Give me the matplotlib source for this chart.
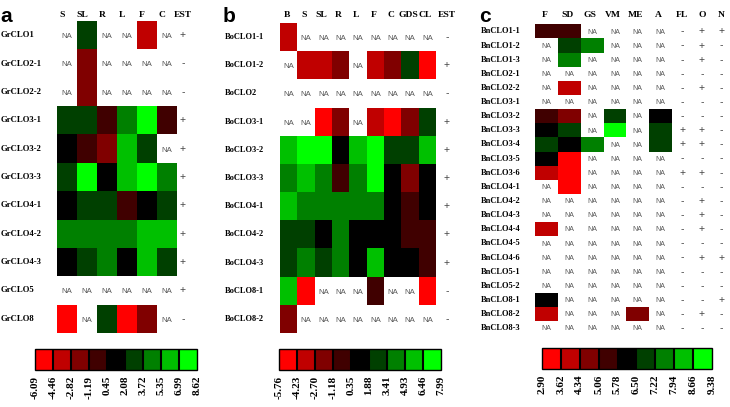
import numpy as np
import matplotlib.pyplot as plt
from matplotlib.colors import ListedColormap, BoundaryNorm
from matplotlib.cm import ScalarMappable

palette = ['#ff0000', '#c00000', '#800000', '#400000', '#000000',
           '#004000', '#008000', '#00c000', '#00ff00']
cmap = ListedColormap(palette)
N = None

# ---- panel a ----
a_rows = ['GrCLO1', 'GrCLO2-1', 'GrCLO2-2', 'GrCLO3-1', 'GrCLO3-2', 'GrCLO3-3',
          'GrCLO4-1', 'GrCLO4-2', 'GrCLO4-3', 'GrCLO5', 'GrCLO8']
a_cols = ['S', 'SL', 'R', 'L', 'F', 'C']
a_levels = [[N, 5, N, N, 1, N],
            [N, 2, N, N, N, N],
            [N, 2, N, N, N, N],
            [5, 5, 3, 6, 8, 3],
            [4, 3, 2, 7, 5, N],
            [5, 8, 4, 7, 8, 6],
            [4, 5, 5, 3, 4, 5],
            [6, 6, 6, 6, 7, 7],
            [4, 5, 6, 4, 7, 5],
            [N, N, N, N, N, N],
            [0, N, 5, 0, 2, N]]
a_est = ['+', '-', '-', '+', '+', '+', '+', '+', '+', '+', '-']
a_ticks = [-6.09, -4.46, -2.82, -1.19, 0.45, 2.08, 3.72, 5.35, 6.99, 8.62]

# ---- panel b ----
b_rows = ['BoCLO1-1', 'BoCLO1-2', 'BoCLO2', 'BoCLO3-1', 'BoCLO3-2', 'BoCLO3-3',
          'BoCLO4-1', 'BoCLO4-2', 'BoCLO4-3', 'BoCLO8-1', 'BoCLO8-2']
b_cols = ['B', 'S', 'SL', 'R', 'L', 'F', 'C', 'GDS', 'CL']
b_levels = [[1, N, N, N, N, N, N, N, N],
            [N, 1, 1, 2, N, 1, 2, 5, 0],
            [N, N, N, N, N, N, N, N, N],
            [N, N, 0, 2, N, 1, 0, 2, 5],
            [7, 8, 8, 4, 7, 8, 5, 5, 7],
            [6, 7, 6, 3, 6, 8, 4, 2, 4],
            [7, 6, 6, 6, 6, 6, 4, 3, 4],
            [5, 5, 4, 6, 4, 4, 4, 3, 3],
            [5, 6, 5, 6, 4, 7, 4, 4, 3],
            [7, 0, N, N, N, 3, N, N, 0],
            [2, N, N, N, N, N, N, N, N]]
b_est = ['-', '+', '-', '+', '+', '+', '+', '+', '+', '-', '-']
b_ticks = [-5.76, -4.23, -2.70, -1.18, 0.35, 1.88, 3.41, 4.93, 6.46, 7.99]

# ---- panel c ----
c_rows = ['BnCLO1-1', 'BnCLO1-2', 'BnCLO1-3', 'BnCLO2-1', 'BnCLO2-2', 'BnCLO3-1',
          'BnCLO3-2', 'BnCLO3-3', 'BnCLO3-4', 'BnCLO3-5', 'BnCLO3-6', 'BnCLO4-1',
          'BnCLO4-2', 'BnCLO4-3', 'BnCLO4-4', 'BnCLO4-5', 'BnCLO4-6', 'BnCLO5-1',
          'BnCLO5-2', 'BnCLO8-1', 'BnCLO8-2', 'BnCLO8-3']
c_cols = ['F', 'SD', 'GS', 'VM', 'ME', 'A']
c_levels = [[3, 3, N, N, N, N],
            [N, 5, 6, N, N, N],
            [N, 6, N, N, N, N],
            [N, N, N, N, N, N],
            [N, 1, N, N, N, N],
            [N, N, N, N, N, N],
            [3, 2, N, 5, N, 4],
            [4, 5, N, 8, N, 5],
            [5, 4, 6, N, N, 5],
            [4, 0, N, N, N, N],
            [1, 0, N, N, N, N],
            [N, 0, N, N, N, N],
            [N, N, N, N, N, N],
            [N, N, N, N, N, N],
            [1, N, N, N, N, N],
            [N, N, N, N, N, N],
            [N, N, N, N, N, N],
            [N, N, N, N, N, N],
            [N, N, N, N, N, N],
            [4, N, N, N, N, N],
            [1, N, N, N, 2, N],
            [N, N, N, N, N, N]]
c_fl = ['-', '-', '-', '-', '-', '-', '-', '+', '+', '-', '+', '-',
        '-', '-', '-', '-', '-', '-', '-', '-', '-', '-']
c_o = ['+', '+', '+', '-', '+', '-', '-', '+', '+', '-', '+', '-',
       '+', '+', '+', '-', '+', '-', '-', '-', '+', '-']
c_n = ['+', '-', '-', '-', '-', '-', '-', '-', '-', '-', '-', '-',
       '-', '-', '-', '-', '+', '-', '-', '+', '-', '-']
c_ticks = [2.90, 3.62, 4.34, 5.06, 5.78, 6.50, 7.22, 7.94, 8.66, 9.38]

W, H = 730, 407
SERIF = 'Liberation Serif'
SANS = 'Liberation Sans'

fig = plt.figure(figsize=(W / 100, H / 100), dpi=100)


def px_axes(l, t, w, h):
    return fig.add_axes([l / W, 1 - (t + h) / H, w / W, h / H])


def panel(box, rows, cols, levels, ticks, extras, label_x, label_fs, head_dx,
          cbox, letter, letter_x, head_fs=6.8, na_fs=5.6):
    l, t, w, h = box
    ax = px_axes(l, t, w, h)
    nr, nc = len(rows), len(cols)
    cw, rh = w / nc, h / nr
    lev = np.array([[np.nan if v is None else v for v in r] for r in levels])
    edges = np.array(ticks)
    mids = (edges[:-1] + edges[1:]) / 2
    vals = np.full(lev.shape, np.nan)
    ok = ~np.isnan(lev)
    vals[ok] = mids[lev[ok].astype(int)]
    norm = BoundaryNorm(edges, cmap.N)
    ax.pcolormesh(np.ma.masked_invalid(vals), cmap=cmap, norm=norm)
    ax.set_xlim(0, nc)
    ax.set_ylim(nr, 0)
    ax.axis('off')

    for i in range(nr):
        for j in range(nc):
            if not ok[i, j]:
                ax.text(j + 0.5, i + 0.55, 'NA', ha='center', va='center',
                        fontsize=na_fs, color='#555555', family=SANS)
        ax.text((label_x - l) / cw, i + 0.5, rows[i], ha='left', va='center',
                fontsize=label_fs, fontweight='bold', family=SERIF, clip_on=False)
    hy = (15 - t) / rh
    for j, c in enumerate(cols):
        ax.text(j + 0.5 + head_dx / cw, hy, c, ha='center', va='center',
                fontsize=head_fs, fontweight='bold', family=SERIF, clip_on=False)
    for name, xpos, signs in extras:
        ax.text(xpos, hy, name, ha='center', va='center', fontsize=head_fs,
                fontweight='bold', family=SERIF, clip_on=False)
        for i, s in enumerate(signs):
            ax.text(xpos, i + 0.5, s, ha='center', va='center', fontsize=7.5,
                    color='#444444', family=SANS, clip_on=False)
    fig.text(letter_x / W, 1 - 16 / H, letter, ha='center', va='center',
             fontsize=15, fontweight='bold', family=SANS)

    cax = px_axes(*cbox)
    cb = fig.colorbar(ScalarMappable(norm=norm, cmap=cmap), cax=cax,
                      orientation='horizontal', drawedges=True, ticks=edges)
    cb.ax.set_xticklabels(['%.2f' % v for v in edges], rotation=90,
                          fontsize=8, fontweight='bold', family=SERIF)
    cb.ax.tick_params(length=0, pad=4)
    cb.outline.set_linewidth(1.0)
    cb.dividers.set_linewidth(1.5)
    return ax


panel((57, 21, 120, 312), a_rows, a_cols, a_levels, a_ticks,
      [('EST', 6.3, a_est)], 1, 6.3, -5, (35, 349, 162, 21), 'a', 6)
panel((280, 23, 156, 310), b_rows, b_cols, b_levels, b_ticks,
      [('EST', 9.63, b_est)], 225, 6.0, -2, (279, 349, 162, 21), 'b', 229)
panel((535, 24.3, 137, 311), c_rows, c_cols, c_levels, c_ticks,
      [('FL', 6.44, c_fl), ('O', 7.31, c_o), ('N', 8.15, c_n)],
      481, 6.0, -2, (542, 348, 170, 21), 'c', 485, na_fs=5.0)

fig.savefig('out.png', dpi=100)
